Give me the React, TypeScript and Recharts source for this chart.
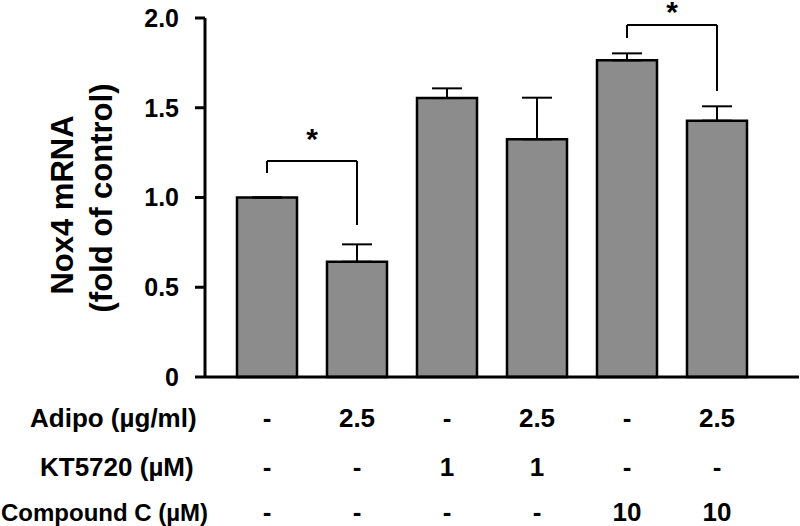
import React from "react";
import { BarChart, Bar, XAxis, YAxis, ErrorBar, ReferenceLine } from "recharts";

const categories = ["Control", "Adipo", "KT5720", "KT5720 + Adipo", "Compound C", "Compound C + Adipo"];
const means = [1.0, 0.642, 1.554, 1.324, 1.764, 1.428];
const upperErrors = [0, 0.097, 0.054, 0.232, 0.039, 0.08];

const yTicks = [0, 0.5, 1, 1.5, 2];

const rowLabels = ["Adipo (\u00b5g/ml)", "KT5720 (\u00b5M)", "Compound C (\u00b5M)"];
const adipoRow = ["-", "2.5", "-", "2.5", "-", "2.5"];
const ktRow = ["-", "-", "1", "1", "-", "-"];
const compoundRow = ["-", "-", "-", "-", "10", "10"];
const tableRows = [adipoRow, ktRow, compoundRow];

// significance brackets: from/to bar index, level of each leg and the top
const brackets = [
  { from: 0, to: 1, leftEnd: 1.136, top: 1.203, rightEnd: 0.847 },
  { from: 4, to: 5, leftEnd: 1.889, top: 1.961, rightEnd: 1.593 },
];

const data = categories.map((name, i) => ({
  name,
  value: means[i],
  err: [0, upperErrors[i]],
}));

const FONT = "'Liberation Sans', Arial, sans-serif";

// layout of the treatment table under the axis
const rowBaselines = [427, 476, 521];
const rowLabelX = [30, 40, 1];
const rowLabelSize = [26, 26, 24];
const asteriskOffsets = [12, 3];

const TableTick = (props: any) => {
  const { x, index } = props;
  return (
    <g>
      {tableRows.map((row, r) => (
        <text
          key={r}
          x={x}
          y={rowBaselines[r]}
          textAnchor="middle"
          fontFamily={FONT}
          fontWeight="bold"
          fontSize={26}
          fill="#000"
        >
          {row[index]}
        </text>
      ))}
      {index === 0 &&
        rowLabels.map((label, r) => (
          <text
            key={"l" + r}
            x={rowLabelX[r]}
            y={rowBaselines[r]}
            fontFamily={FONT}
            fontWeight="bold"
            fontSize={rowLabelSize[r]}
            fill="#000"
          >
            {label}
          </text>
        ))}
    </g>
  );
};

const YLabel = () => (
  <g fontFamily={FONT} fontWeight="bold" fontSize={31} fill="#000">
    <text x={62} y={205} textAnchor="middle" dominantBaseline="central" transform="rotate(-90 62 205)">
      Nox4 mRNA
    </text>
    <text x={101} y={198} textAnchor="middle" dominantBaseline="central" transform="rotate(-90 101 198)">
      (fold of control)
    </text>
  </g>
);

export default function App() {
  return (
    <div style={{ position: "absolute", left: 0, top: 0, background: "#fff" }}>
      <BarChart width={800} height={526} data={data} margin={{ top: 18, right: 1, bottom: 0, left: 0 }}>
        <XAxis
          dataKey="name"
          height={149}
          padding={{ left: 17, right: 37 }}
          axisLine={{ stroke: "#000", strokeWidth: 3 }}
          tickLine={false}
          tick={<TableTick />}
          interval={0}
        />
        <YAxis
          width={205}
          domain={[0, 2]}
          ticks={yTicks}
          tickFormatter={(v: number) => (v === 0 ? "0" : v.toFixed(1))}
          axisLine={{ stroke: "#000", strokeWidth: 3 }}
          tickLine={{ stroke: "#000", strokeWidth: 3 }}
          tickSize={10}
          tickMargin={16}
          tick={{ fill: "#000", fontFamily: FONT, fontWeight: "bold", fontSize: 25 }}
          label={{ content: () => <YLabel /> }}
        />
        <Bar
          dataKey="value"
          fill="#8c8c8c"
          stroke="#000"
          strokeWidth={2.5}
          barSize={60}
          isAnimationActive={false}
        >
          <ErrorBar dataKey="err" direction="y" width={15} stroke="#000" strokeWidth={2} />
        </Bar>
        {brackets.map((b, i) => (
          <ReferenceLine
            key={"bl" + i}
            segment={[
              { x: categories[b.from], y: b.leftEnd },
              { x: categories[b.from], y: b.top },
            ]}
            stroke="#000"
            strokeWidth={2}
            ifOverflow="visible"
          />
        ))}
        {brackets.map((b, i) => (
          <ReferenceLine
            key={"bt" + i}
            segment={[
              { x: categories[b.from], y: b.top },
              { x: categories[b.to], y: b.top },
            ]}
            stroke="#000"
            strokeWidth={2}
            ifOverflow="visible"
            label={{
              value: "*",
              position: "top",
              offset: asteriskOffsets[i],
              fill: "#000",
              fontFamily: FONT,
              fontWeight: "bold",
              fontSize: 30,
            }}
          />
        ))}
        {brackets.map((b, i) => (
          <ReferenceLine
            key={"br" + i}
            segment={[
              { x: categories[b.to], y: b.top },
              { x: categories[b.to], y: b.rightEnd },
            ]}
            stroke="#000"
            strokeWidth={2}
            ifOverflow="visible"
          />
        ))}
      </BarChart>
    </div>
  );
}
